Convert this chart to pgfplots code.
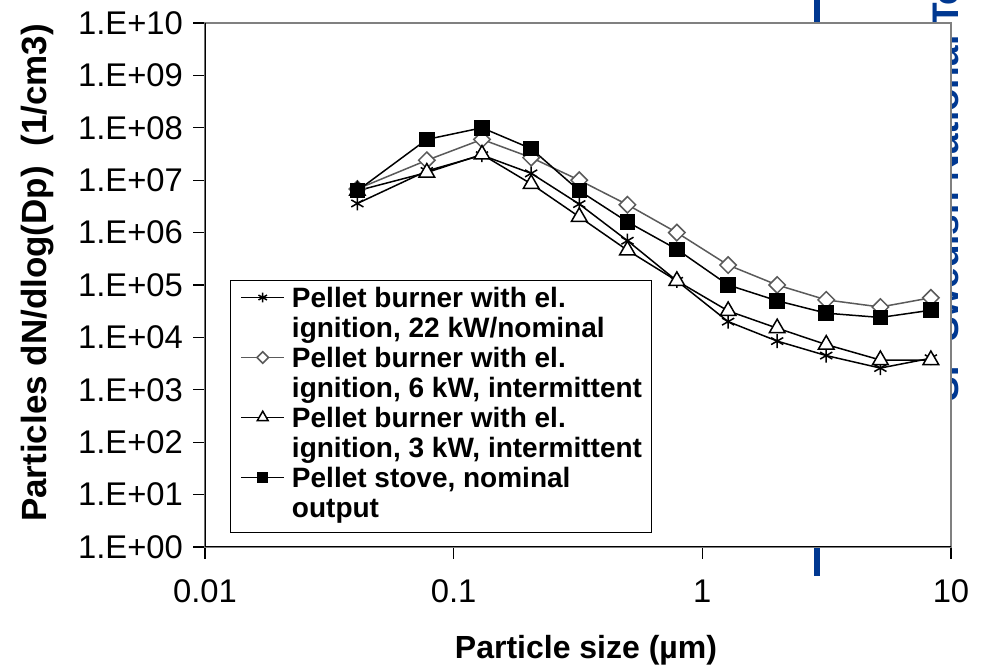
\documentclass[border=0pt]{standalone}
\usepackage{pgfplots}
\pgfplotsset{compat=1.18}
\usepackage{fontspec}
\setmainfont{Liberation Sans}
\definecolor{spblue}{RGB}{0,56,145}
\definecolor{dgray}{RGB}{90,90,90}
\definecolor{fgray}{RGB}{128,128,128}
\begin{document}
\begin{tikzpicture}
\path[use as bounding box] (0pt,0pt) rectangle (493.5pt,334.5pt);
% background artefacts
\draw[spblue, line width=3pt] (408.5pt,334.5pt) -- (408.5pt,46.5pt);
\node[rotate=90, anchor=base west, inner sep=0pt, text=spblue,
      font=\fontsize{18.5pt}{20pt}\selectfont\bfseries] at (479pt,133.5pt)
      {SP Swedish National Testing and Research Institute};
\begin{axis}[
  at={(102.5pt,61pt)}, anchor=south west,
  scale only axis, width=373pt, height=262pt,
  xmode=log, ymode=log,
  xmin=0.01, xmax=10, ymin=1, ymax=1e10,
  axis background/.style={fill=white},
  axis line style={draw=fgray, line width=0.6pt},
  xtick pos=bottom, ytick pos=left,
  xminorticks=false, yminorticks=false,
  tick align=outside, major tick length=6pt,
  tick style={black, line width=0.6pt},
  xtick={0.01,0.1,1,10},
  xticklabels={0.01,0.1,1,10},
  ytick={1,1e1,1e2,1e3,1e4,1e5,1e6,1e7,1e8,1e9,1e10},
  yticklabels={1.E+00,1.E+01,1.E+02,1.E+03,1.E+04,1.E+05,1.E+06,1.E+07,1.E+08,1.E+09,1.E+10},
  tick label style={font=\fontsize{16.4pt}{19pt}\selectfont},
  xticklabel style={yshift=-7pt},
  yticklabel style={xshift=-1.5pt},
  every axis x label/.style={at={(rel axis cs:0.5,0)}, anchor=base, xshift=4pt, yshift=-56pt,
     font=\fontsize{16pt}{19pt}\selectfont\bfseries},
  every axis y label/.style={at={(rel axis cs:0,0.5)}, xshift=-79pt, yshift=6pt, rotate=90, anchor=base,
     font=\fontsize{17.5pt}{20pt}\selectfont\bfseries},
  xlabel={Particle size (µm)},
  ylabel={Particles dN/dlog(Dp)\ \ (1/cm3)},
  legend image code/.code={
    \draw[mark repeat=2, mark phase=2, #1] plot coordinates {(0pt,5pt) (10.75pt,5pt) (21.5pt,5pt)};
  },
  legend image post style={every mark/.append style={scale=0.7}},
  legend style={at={(0.0335,0.5095)}, anchor=north west,
    draw=black, line width=0.5pt, fill=white,
    inner xsep=5pt, inner ysep=3pt, row sep=0pt, column sep=3.5pt,
    font=\fontsize{14pt}{15pt}\selectfont\bfseries,
    nodes={inner xsep=0pt, inner ysep=0pt, text depth={}},
    cells={anchor=base west}},
]
\addplot[black, line width=0.75pt, mark=asterisk, mark size=3.5pt, mark options={solid}] coordinates {
(0.041,3.6e6) (0.078,1.5e7) (0.13,3.0e7) (0.205,1.35e7) (0.32,3.5e6) (0.50,7.0e5)
(0.79,1.2e5) (1.27,2.0e4) (2.0,8.5e3) (3.15,4.5e3) (5.2,2.6e3) (8.3,4.0e3)};
\addlegendentry{\begin{tabular}[t]{@{}l@{}}Pellet burner with el.\\ignition, 22 kW/nominal\end{tabular}}
\addplot[dgray, line width=0.75pt, mark=square*, mark size=2.9pt, mark options={solid, rotate=45, fill=white, draw=dgray}] coordinates {
(0.041,6.8e6) (0.078,2.4e7) (0.13,6.0e7) (0.205,2.7e7) (0.32,1.0e7) (0.50,3.4e6)
(0.79,1.0e6) (1.27,2.4e5) (2.0,1.0e5) (3.15,5.2e4) (5.2,3.8e4) (8.3,5.7e4)};
\addlegendentry{\begin{tabular}[t]{@{}l@{}}Pellet burner with el.\\ignition, 6 kW, intermittent\end{tabular}}
\addplot[black, line width=0.75pt, mark=triangle*, mark size=4.5pt, mark options={solid, fill=white}] coordinates {
(0.041,6.3e6) (0.078,1.4e7) (0.13,3.1e7) (0.205,8.5e6) (0.32,2.0e6) (0.50,4.6e5)
(0.79,1.2e5) (1.27,3.2e4) (2.0,1.5e4) (3.15,7.3e3) (5.2,3.7e3) (8.3,3.7e3)};
\addlegendentry{\begin{tabular}[t]{@{}l@{}}Pellet burner with el.\\ignition, 3 kW, intermittent\end{tabular}}
\addplot[black, line width=0.75pt, mark=square*, mark size=3.5pt, mark options={solid, fill=black}] coordinates {
(0.041,6.3e6) (0.078,6.0e7) (0.13,1.0e8) (0.205,4.0e7) (0.32,6.3e6) (0.50,1.6e6)
(0.79,4.8e5) (1.27,1.0e5) (2.0,5.0e4) (3.15,2.9e4) (5.2,2.4e4) (8.3,3.3e4)};
\addlegendentry{\begin{tabular}[t]{@{}l@{}}Pellet stove, nominal\\output\end{tabular}}
\draw[black, line width=0.6pt] (rel axis cs:0,1) -- (rel axis cs:0,0) -- (rel axis cs:1,0);
\end{axis}
\end{tikzpicture}
\end{document}
